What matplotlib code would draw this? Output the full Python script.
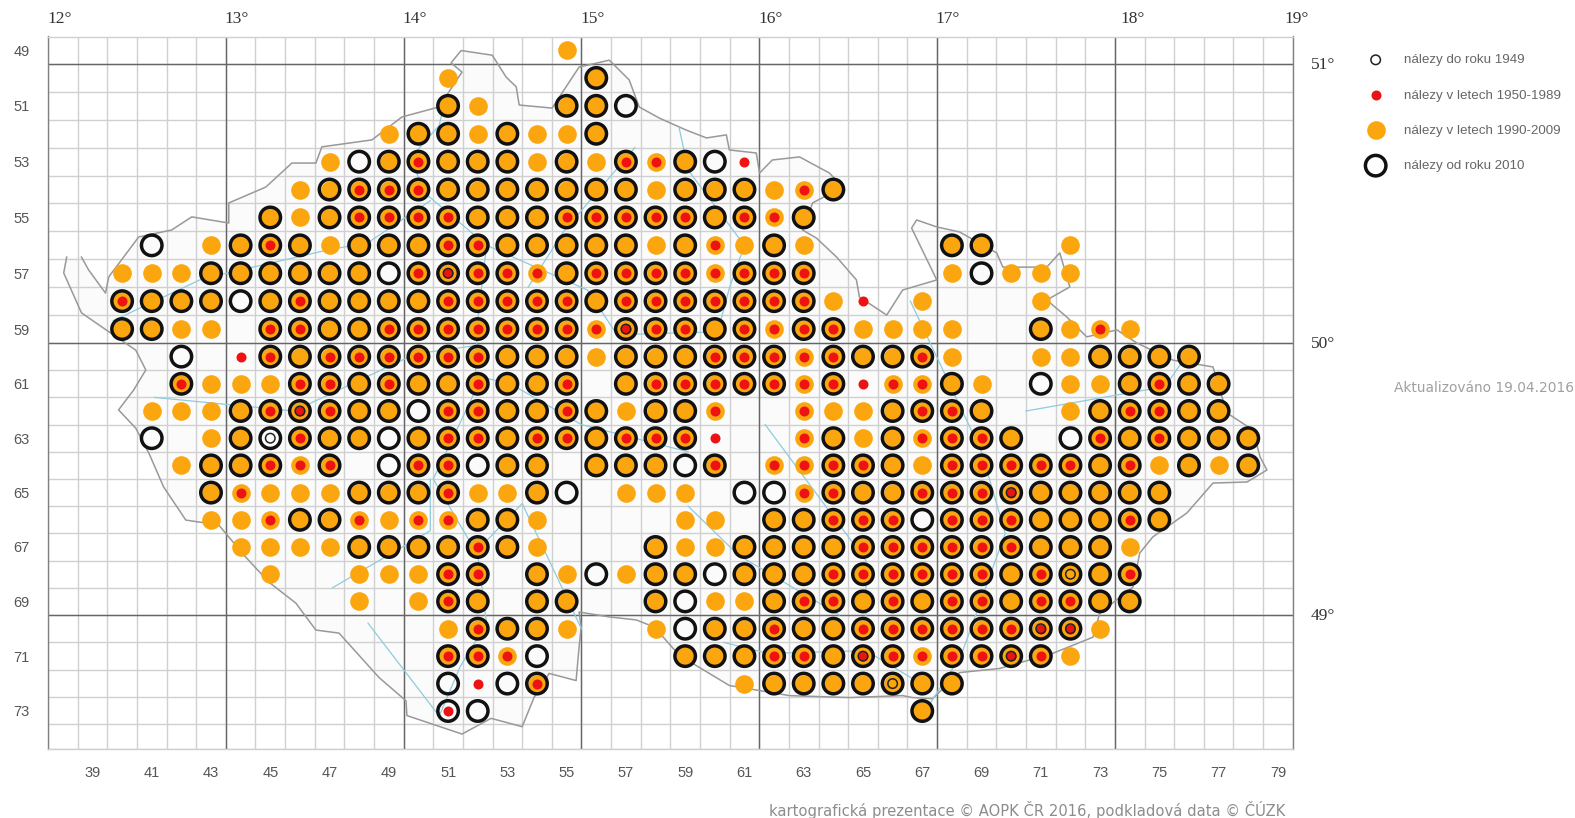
import numpy as np
import matplotlib
matplotlib.use('Agg')
import matplotlib.pyplot as plt

# faunistic grid squares, one string per row
# o orange only, r red only, R orange+red, B orange+ring, X orange+red+ring, W ring only
# D orange+red+ring+old ring, C orange+ring+old ring, K ring+old ring, Q ring+red
row_numbers = list(range(49, 74))
row_start = [55, 51, 51, 49, 47, 46, 45, 41, 40, 40, 40, 42, 42,
             41, 41, 42, 43, 43, 44, 45, 48, 51, 51, 51, 51]
row_codes = [
    "o",
    "o....B",
    "Bo..BBW",
    "oBBoBooB",
    "oWBXBBBoBoXRBWr",
    "oBXXXBBBBBBBoBBBoRB",
    "BoBXXXXBBBXXXXXBXRB",
    "W.oBXBoBBBXXBBBBBoBRoBo....BB..o",
    "oooBBBBBBWXDXXRBXXXXRXXX....oWooo",
    "XBBBWBXBBBBXXXXXBXXXXXXXor.o...o",
    "BBoo.XXBBXXXXXXXRDXXBXRXXoooo..BoRo",
    "W.rXBXXXXXXBBBoBBBXXXRXBBXo..ooBBBB",
    "XoooXXBXBBXBBX.BXXXXXRXrRRBo.WooBXBB",
    "oooBXDXBBWXXBBXBoBBR..RooBXXB..oBXXBB",
    "W.oBKXBBWBXXBXXBXXXr..RBoBRXXB.WXBXBBB",
    "oBBXRX.WXXWBB.BBBWX.RRXXBoXXXXXBXoBoB",
    "BRoooBBBXooBW.ooo.WWRXBBXXXDBBBBB",
    "ooRBBRoRRBBo....oo.BBXXXWXXXBBBXB",
    "ooooBBBBXBo...BooBBBBXXXXXXBBBo",
    "o..oooXX.BoWoBBWBBBXXXXXXBXCBX",
    "o.oXB.BB..BWooBXXBXBXXBXXBB",
    "oXBBo..oWBBXBBXXXXXXDDo",
    "XXRW....BBBXXBDXRXXDXo",
    "WrWX......oBBBBCBB",
    "QW..............B",
]

legend_labels = ['nálezy do roku 1949', 'nálezy v letech 1950-1989',
                 'nálezy v letech 1990-2009', 'nálezy od roku 2010']

x_tick_cols = list(range(39, 80, 2))
y_tick_rows = list(range(49, 74, 2))
lon_labels = ['12°', '13°', '14°', '15°', '16°', '17°', '18°', '19°']
lon_cols = [37.5, 43.5, 49.5, 55.5, 61.5, 67.5, 73.5, 79.5]
lon_shift = [12, 11, 11, 11, 11, 11, 18, 4]
lat_labels = ['51°', '50°', '49°']
lat_rows = [49.5, 59.5, 69.5]

# state border, (col, row)
border = [
    (38.13, 56.42), (38.03, 56.99), (38.63, 58.42), (39.61, 59.14), (40.46, 59.76),
    (40.80, 60.49), (40.39, 61.23), (39.88, 61.96), (40.46, 62.63), (40.90, 63.54),
    (41.40, 64.79), (42.15, 66.01), (43.26, 66.19), (44.17, 67.37), (44.95, 68.29),
    (45.86, 69.06), (46.54, 70.05), (47.32, 70.16), (48.67, 71.78), (49.58, 72.63),
    (49.61, 73.18), (51.47, 73.91), (52.45, 73.29), (53.50, 73.62), (53.90, 72.51),
    (54.41, 71.63), (55.32, 71.89), (55.42, 70.68), (55.49, 69.94), (55.42, 69.39),
    (56.44, 69.57), (57.35, 69.68), (57.96, 69.94), (58.80, 70.97), (60.49, 72.07),
    (62.52, 72.44), (64.55, 72.51), (66.34, 72.44), (66.67, 72.51), (67.35, 72.55),
    (68.26, 71.60), (69.61, 71.45), (71.40, 70.90), (72.76, 70.31), (72.99, 69.43),
    (74.11, 68.47), (74.34, 67.22), (74.78, 66.63), (75.93, 65.75), (76.81, 64.65),
    (77.96, 64.61), (78.63, 64.17), (78.40, 63.69), (78.16, 62.70), (77.28, 62.07),
    (76.81, 60.38), (75.46, 60.13), (74.24, 59.50), (73.57, 59.03), (72.55, 59.28),
    (71.88, 58.57), (71.20, 57.96), (71.98, 57.49), (71.64, 56.27), (71.20, 56.78),
    (69.72, 56.78), (69.51, 56.27), (68.26, 55.52), (67.49, 55.34), (66.81, 55.09),
    (66.64, 55.38), (67.49, 57.24), (66.34, 57.60), (65.80, 58.50), (64.88, 57.85),
    (64.78, 57.24), (64.11, 56.42), (63.43, 55.74), (62.96, 55.45), (63.30, 54.48),
    (64.31, 53.91), (63.87, 53.41), (62.86, 52.83), (61.94, 52.94), (61.51, 53.41),
    (61.40, 52.69), (60.49, 52.58), (60.39, 52.04), (59.72, 52.15), (59.04, 51.87),
    (58.13, 51.44), (57.45, 51.04), (57.11, 50.07), (56.44, 49.36), (55.42, 49.61),
    (54.51, 51.08), (53.40, 50.97), (53.30, 50.32), (52.96, 49.97), (52.49, 49.18),
    (51.44, 49.01), (51.10, 49.46), (51.47, 49.79), (50.69, 51.04), (49.44, 51.40),
    (48.43, 52.22), (46.74, 52.47), (46.54, 53.05), (45.73, 53.05), (44.85, 53.91),
    (43.60, 54.48), (43.60, 55.20), (42.35, 54.98), (41.67, 55.45), (40.56, 55.70),
    (39.55, 57.13), (39.44, 57.71), (38.87, 56.88), (38.63, 56.42),
]

rivers = [
    [(58.8, 51.8), (59.1, 53.3), (61.0, 56.0), (60.5, 57.5), (60.1, 59.1), (56.7, 59.2),
     (55.7, 57.6), (52.3, 56.0), (50.3, 54.2), (49.7, 52.9), (50.7, 51.7), (50.9, 50.8)],
    [(48.3, 69.8), (50.7, 73.2), (51.4, 71.4), (52.3, 69.8), (52.0, 67.3), (50.5, 64.5),
     (51.9, 61.3), (52.0, 58.7), (52.3, 56.0)],
    [(39.7, 58.7), (42.7, 57.2), (46.8, 56.2), (48.3, 55.9), (50.4, 54.4)],
    [(41.1, 61.5), (45.8, 62.0), (49.9, 59.9), (51.9, 59.6)],
    [(66.6, 58.0), (69.0, 63.5), (69.8, 66.5), (68.3, 71.0), (67.1, 73.0)],
    [(60.3, 70.5), (61.8, 70.9), (65.1, 70.8), (66.8, 71.9)],
    [(61.7, 62.5), (65.1, 67.5), (65.1, 70.3)],
    [(59.1, 63.5), (55.5, 62.5), (53.1, 61.0), (51.9, 60.7)],
    [(59.1, 65.5), (60.8, 67.3), (64.2, 69.5)],
    [(70.5, 62.0), (75.2, 61.1), (75.7, 60.3)],
    [(55.5, 70.0), (53.5, 65.4), (52.1, 67.0)],
    [(47.1, 68.5), (50.4, 66.4), (50.4, 64.5)],
    [(57.3, 52.5), (54.9, 55.5), (53.7, 57.5)],
]

# sort the squares into the four period layers
old_pts, red_pts, orange_pts, ring_pts = [], [], [], []
for r, start, codes in zip(row_numbers, row_start, row_codes):
    for i, c in enumerate(codes):
        col = start + i
        if c in 'oRBXDC':
            orange_pts.append((col, r))
        if c in 'rRXDQ':
            red_pts.append((col, r))
        if c in 'BXWDCKQ':
            ring_pts.append((col, r))
        if c in 'DCK':
            old_pts.append((col, r))
old_pts = np.array(old_pts)
red_pts = np.array(red_pts)
orange_pts = np.array(orange_pts)
ring_pts = np.array(ring_pts)

plt.rcParams['font.family'] = ['Liberation Sans', 'DejaVu Sans']

W, H = 1575, 818
fig = plt.figure(figsize=(W / 100, H / 100), dpi=100)
ax = fig.add_axes([48 / W, 1 - 749 / H, (1292.7 - 48) / W, (749 - 36.5) / H])

# the map grid is not quite even between the parallels
knot_rows = [48.5, 49.5, 59.5, 69.5, 73.0, 74.5]
knot_px = [36.5, 64.0, 343.0, 615.0, 711.0, 749.0]
ax.set_yscale('function', functions=(lambda v: np.interp(v, knot_rows, knot_px),
                                     lambda v: np.interp(v, knot_px, knot_rows)))
ax.set_xlim(37.5, 79.5)
ax.set_ylim(74.5, 48.5)

ax.set_xticks(np.arange(37.5, 80), minor=True)
ax.set_yticks(np.arange(48.5, 75), minor=True)
ax.grid(which='minor', color='#d0d0d0', lw=1.0, zorder=1)
ax.tick_params(which='both', length=0)
ax.set_xticks(x_tick_cols)
ax.set_yticks(y_tick_rows)
ax.set_xticklabels([str(v) for v in x_tick_cols], fontsize=10.5, color='#555555')
ax.set_yticklabels([str(v) for v in y_tick_rows], fontsize=10.5, color='#555555')
ax.tick_params(axis='x', pad=12)
ax.tick_params(axis='y', pad=13)
ax.set_axisbelow(True)

for v in lon_cols[1:-1]:
    ax.axvline(v, color='#666666', lw=1.0, zorder=2)
for v in lat_rows:
    ax.axhline(v, color='#666666', lw=1.0, zorder=2)
for s in ['left', 'right']:
    ax.spines[s].set_color('#808080')
    ax.spines[s].set_linewidth(1.0)
for s in ['top', 'bottom']:
    ax.spines[s].set_color('#d0d0d0')
    ax.spines[s].set_linewidth(1.0)

bx = [p[0] for p in border]
by = [p[1] for p in border]
ax.fill(bx, by, color='#fbfbfb', lw=0, zorder=0)
ax.plot(bx, by, color='#999999', lw=1.1, zorder=3)
for riv in rivers:
    ax.plot([p[0] for p in riv], [p[1] for p in riv], color='#8fcbdc', lw=0.9, zorder=3)

orange = ax.scatter(orange_pts[:, 0], orange_pts[:, 1], s=180, c='#fba60e', lw=0, zorder=4,
                    label=legend_labels[2])
red = ax.scatter(red_pts[:, 0], red_pts[:, 1], s=52, c='#ee1212', lw=0, zorder=5,
                 label=legend_labels[1])
old = ax.scatter(old_pts[:, 0], old_pts[:, 1], s=47, facecolors='none', edgecolors='#222222',
                 lw=1.1, zorder=6, label=legend_labels[0])
ring = ax.scatter(ring_pts[:, 0], ring_pts[:, 1], s=218, facecolors='none', edgecolors='#111111',
                  lw=2.5, zorder=7, label=legend_labels[3])

ax.legend(handles=[old, red, orange, ring], loc='upper left', bbox_to_anchor=(1365 / W, 1 - 54 / H),
          bbox_transform=fig.transFigure, frameon=False, fontsize=9.6, labelcolor='#666666',
          labelspacing=1.72, handlelength=1.6, handletextpad=1.3, borderpad=0, borderaxespad=0)

# degree labels, serif like the original
serif = ['Liberation Serif', 'DejaVu Serif']
for lab, v, sh in zip(lon_labels, lon_cols, lon_shift):
    ax.annotate(lab, xy=(v, 48.5), xytext=(sh * 0.72, 7), textcoords='offset points',
                ha='center', va='bottom', fontsize=12.5, family=serif, color='#333333')
for lab, v in zip(lat_labels, lat_rows):
    ax.annotate(lab, xy=(79.5, v), xytext=(13, -1), textcoords='offset points',
                ha='left', va='center', fontsize=12.5, family=serif, color='#333333', annotation_clip=False)

fig.text(1394 / W, 1 - 388 / H, 'Aktualizováno 19.04.2016', fontsize=9.9, family='DejaVu Sans',
         color='#a0a0a0', va='center')
fig.text(1285 / W, 1 - 810 / H, 'kartografická prezentace © AOPK ČR 2016, podkladová data © ČÚZK',
         fontsize=10.6, family='DejaVu Sans', color='#8c8c8c', va='center', ha='right')

fig.savefig('out.png', dpi=100)
